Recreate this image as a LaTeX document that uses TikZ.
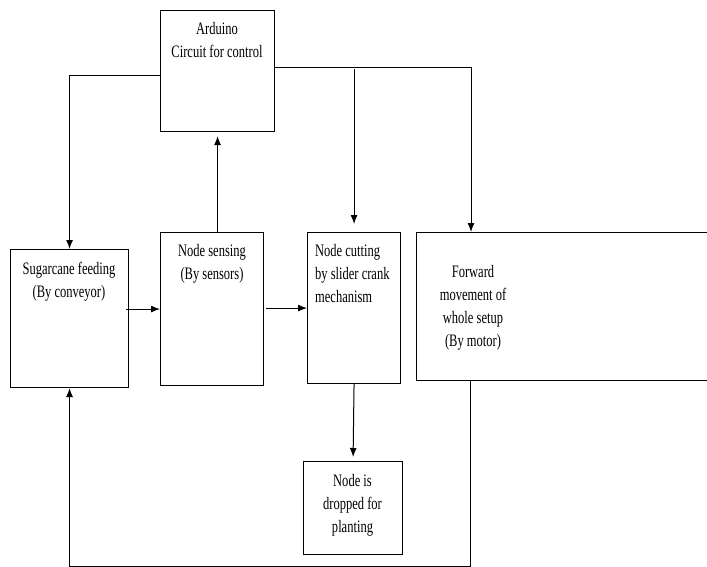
\documentclass[tikz,border=0pt]{standalone}
\usepackage{fontspec}
\setmainfont{Liberation Serif}
\usepackage{graphicx}
\usetikzlibrary{arrows.meta,positioning,calc}

% squeezed text lines, as in the scanned figure
\newcommand{\boxlines}[2][c]{\scalebox{0.715}[1]{\begin{tabular}{@{}#1@{}}#2\end{tabular}}}

\begin{document}
\begin{tikzpicture}[x=1pt,y=-1pt,
  blk/.style={draw=black,line width=1.1pt,inner sep=0pt,anchor=north west},
  txt/.style={inner sep=0pt,font=\fontsize{17.5}{23}\selectfont},
  flow/.style={draw=black,line width=1pt,-{Latex[length=9pt,width=7pt]}}]
\clip (0,0) rectangle (707,567);
\fill[white] (0,0) rectangle (707,567);
% blocks
\node[blk,minimum width=114pt,minimum height=121pt] (ard) at (160,10) {};
\node[blk,minimum width=118pt,minimum height=138pt] (feed) at (10,249) {};
\node[blk,minimum width=103pt,minimum height=153pt] (sens) at (160,232) {};
\node[blk,minimum width=93pt,minimum height=151pt] (cut) at (307,232) {};
\node[blk,minimum width=300pt,minimum height=148pt] (fwd) at (416,232) {};
\node[blk,minimum width=99pt,minimum height=93pt] (drop) at (303,461) {};
% texts
\node[txt] (ardtxt) at (217,41.5) {\boxlines{Arduino\\Circuit for control}};
\node[txt] (feedtxt) at (69,281) {\boxlines{Sugarcane feeding\\(By conveyor)}};
\node[txt] (senstxt) at (212,263.5) {\boxlines{Node sensing\\(By sensors)}};
\node[txt,anchor=west] (cuttxt) at (315,275) {\boxlines[l]{Node cutting\\by slider crank\\mechanism}};
\node[txt] (fwdtxt) at (473,307) {\boxlines{Forward\\movement of\\whole setup\\(By motor)}};
\node[txt] (droptxt) at (352.5,505) {\boxlines{Node is\\dropped for\\planting}};
% connectors
\draw[flow] ([yshift=-4pt]ard.west) -| (feed.north);
\draw[flow] ([yshift=4pt]ard.east) -| ([xshift=55pt]fwd.north west);
\draw[flow] ([yshift=2pt]ard.east -| cut.north) -- ([yshift=8pt]cut.north);
\draw[flow,shorten >=4pt] (ard.south |- sens.north) -- (ard.south);
\draw[flow] ([xshift=-3pt]feed.east |- sens.west) -- (sens.west);
\draw[flow] ([xshift=2pt]sens.east |- cut.west) -- (cut.west);
\draw[flow,shorten >=4pt] (cut.south) -- (drop.north);
\draw[flow] ([xshift=54pt]fwd.south west) |- ($(feed.south)+(0,178.5)$) -- (feed.south);
\end{tikzpicture}
\end{document}
